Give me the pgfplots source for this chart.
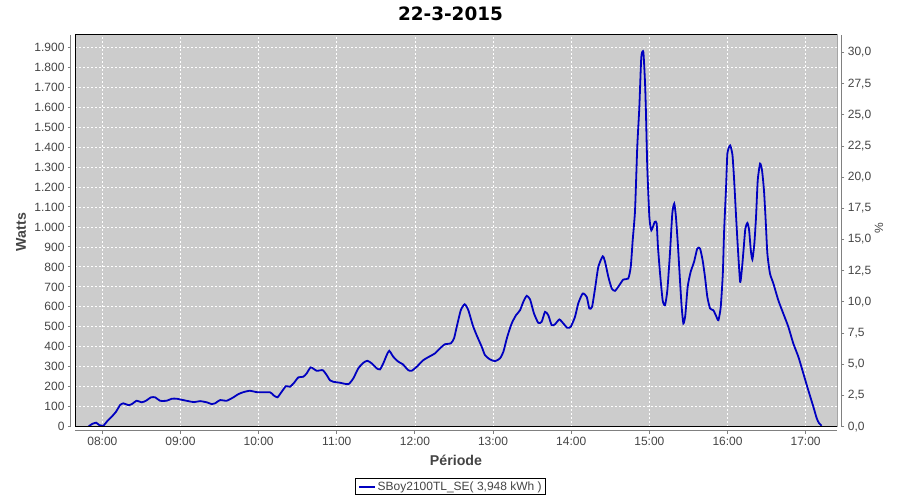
\documentclass[border=0pt]{standalone}
\usepackage{fontspec}
\setmainfont{Liberation Sans}
\newfontfamily\titlefont{DejaVu Sans}
\usepackage{pgfplots}
\pgfplotsset{compat=1.18}
\definecolor{plotbg}{RGB}{204,204,204}
\definecolor{serie}{RGB}{0,0,192}
\definecolor{axisgray}{RGB}{128,128,128}
\definecolor{labelgray}{RGB}{68,68,68}

\begin{document}
\begin{tikzpicture}[x=1pt,y=1pt]
\useasboundingbox (0,0) rectangle (900,500);

% axe principal : puissance en watts
\begin{axis}[
    at={(75pt,73.3pt)}, anchor=south west,
    scale only axis, width=762.3pt, height=391.7pt,
    xmin=459, xmax=1044.3, ymin=0, ymax=1961,
    axis x line*=bottom, axis y line*=left,
    axis x line shift=4pt, axis y line shift=4pt,
    axis line style={axisgray, line width=1pt},
    axis background/.style={fill=plotbg},
    xtick={480,540,...,1020},
    xticklabels={08:00,09:00,10:00,11:00,12:00,13:00,14:00,15:00,16:00,17:00},
    ytick={0,100,...,1900},
    tick align=outside, major tick length=3pt,
    tick style={axisgray, line width=1pt},
    grid=major,
    major grid style={white, dash pattern=on 2pt off 2pt, line width=0.8pt},
    ticklabel style={font=\fontsize{12}{14}\selectfont, text=labelgray},
    /pgf/number format/1000 sep={.},
    /pgf/number format/assume math mode=true,
    legend style={at={(0.493,-0.1536)}, anchor=center, draw=black, fill=white,
        line width=1pt, inner xsep=2pt, inner ysep=1pt,
        font=\fontsize{12}{14}\selectfont, text=labelgray},
    legend image code/.code={\draw[#1, line width=1.8pt] (0pt,0pt) -- (16pt,0pt);},
]
\addplot[serie, line width=1.8pt, smooth, tension=0.35] coordinates {
(469.3,0) (471.9,13) (475.2,20) (477.7,8) (480.8,5) (483.4,25) (487.2,50)
(490.5,75) (493.6,108) (496.1,117) (500.0,108) (502.6,113) (506.4,130)
(510.2,122) (513.5,130) (517.4,147) (520.5,147) (524.3,130) (529.4,130)
(533.3,140) (537.1,140) (542.2,133) (546.0,128) (550.4,123) (555.0,128)
(560.2,122) (564.0,113) (566.5,117) (570.4,133) (575.5,130) (580.6,147)
(584.4,163) (588.3,173) (593.4,180) (598.5,173) (608.8,172) (611.3,158)
(614.4,147) (617.7,175) (621.0,203) (624.1,200) (627.2,220) (630.5,247)
(634.3,250) (636.9,267) (640.0,297) (644.6,280) (649.2,283) (652.3,258)
(654.8,232) (657.3,225) (662.5,220) (668.9,213) (672.7,242) (676.5,292)
(680.4,320) (683.5,330) (686.8,317) (690.7,292) (693.2,287) (695.7,317)
(698.3,358) (700.3,380) (703.4,350) (707.3,325) (710.6,313) (714.9,283)
(717.5,280) (721.4,300) (726.4,333) (731.6,353) (735.4,367) (739.2,392)
(743.1,413) (747.5,417) (750.0,442) (752.1,500) (755.2,583) (758.2,613)
(761.0,583) (764.4,508) (767.4,458) (771.3,400) (773.8,358) (777.6,337)
(781.5,328) (785.3,342) (787.9,375) (790.9,450) (794.3,517) (797.6,558)
(800.7,583) (803.2,625) (805.8,655) (808.4,637) (811.4,567) (814.7,520)
(817.3,525) (819.9,575) (822.4,558) (825.0,508) (827.6,513) (830.9,537)
(833.9,517) (837.0,495) (839.6,500) (842.9,550) (845.4,617) (848.8,667)
(851.9,650) (853.9,592) (856.0,600) (858.3,692) (860.8,800) (864.2,853)
(866.0,825) (868.5,750) (871.1,692) (873.6,680) (876.9,708) (880.0,737)
(883.8,742) (885.7,800) (887.2,933) (889.0,1083) (890.7,1400) (892.3,1600)
(893.8,1850) (895.4,1875) (896.7,1717) (897.4,1567) (898.4,1300) (900.0,1050)
(901.5,983) (904.1,1025) (905.6,1017) (906.6,900) (908.2,767) (910.2,633)
(912.0,608) (913.8,683) (915.8,867) (917.6,1067) (919.1,1117) (920.4,1050)
(922.0,900) (923.5,733) (924.8,600) (926.1,517) (927.6,558) (929.4,700)
(931.7,775) (934.3,825) (936.8,892) (938.9,892) (940.9,833) (942.7,750)
(944.5,650) (946.6,592) (949.1,583) (951.2,555) (953.0,533) (954.8,600)
(956.4,767) (957.4,980) (958.9,1200) (959.9,1367) (962.0,1408) (963.8,1360)
(965.1,1233) (966.6,1050) (967.9,900) (969.7,725) (971.2,800) (972.5,900)
(973.7,992) (975.3,1020) (976.6,983) (977.9,883) (979.1,837) (980.6,917)
(981.9,1050) (983.2,1233) (985.0,1317) (986.5,1283) (988.0,1183) (989.3,1033)
(990.6,867) (992.6,767) (995.2,717) (999.0,633) (1002.8,567) (1006.7,500)
(1010.5,417) (1014.4,350) (1018.2,267) (1022.0,183) (1025.9,100) (1028.5,42)
(1030.3,17) (1032.3,5)
};
\addlegendentry{SBoy2100TL\_SE( 3,948 kWh )}
\draw[black, line width=1pt] (rel axis cs:0,0) rectangle (rel axis cs:1,1);
\end{axis}

% axe secondaire : pourcentage
\begin{axis}[
    at={(75pt,73.3pt)}, anchor=south west,
    scale only axis, width=762.3pt, height=391.7pt,
    xmin=459, xmax=1044.3, ymin=0, ymax=31.4,
    axis x line=none, axis y line*=right,
    axis y line shift=4pt,
    axis line style={axisgray, line width=1pt},
    ytick={0,2.5,...,30},
    tick align=outside, major tick length=3pt,
    tick style={axisgray, line width=1pt},
    ticklabel style={font=\fontsize{12}{14}\selectfont, text=labelgray},
    yticklabel style={/pgf/number format/.cd, fixed, fixed zerofill,
        precision=1, use comma, assume math mode=true},
]
\end{axis}

\node[font=\titlefont\bfseries\fontsize{18.4}{20}\selectfont] at (450.5,486) {22-3-2015};
\node[font=\bfseries\fontsize{14.2}{16}\selectfont, text=labelgray] at (456,40) {Période};
\node[rotate=90, font=\bfseries\fontsize{14.2}{16}\selectfont, text=labelgray] at (21,268) {Watts};
\node[rotate=90, font=\fontsize{12}{14}\selectfont, text=labelgray] at (879,272) {\%};
\end{tikzpicture}
\end{document}
